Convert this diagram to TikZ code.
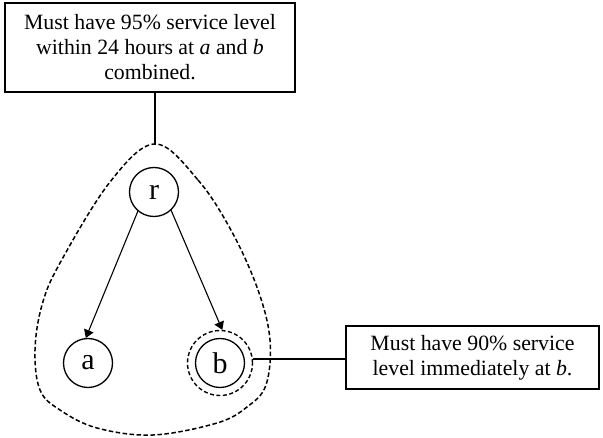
\documentclass[tikz,border=0pt]{standalone}
\usepackage{fontspec}
\setmainfont{Liberation Serif}
\usetikzlibrary{arrows.meta}
\begin{document}
\begin{tikzpicture}[x=1pt,y=-1pt,
  notebox/.style={draw, line width=1.5pt, align=center, inner sep=0pt,
    font=\fontsize{21.8}{25}\selectfont},
  vertex/.style={draw, circle, line width=1.3pt, minimum size=49pt, inner sep=0pt,
    font=\fontsize{30}{30}\selectfont},
  halo/.style={draw, circle, dash pattern=on 4pt off 2.5pt, line width=1.4pt,
    minimum size=65pt, inner sep=0pt},
  edge/.style={line width=1.1pt, -{Triangle[length=8pt,width=10pt]}},
  leader/.style={line width=1.3pt},
  region/.style={dash pattern=on 4.5pt off 2.5pt, line width=1.5pt}]
\useasboundingbox (0,0) rectangle (603,438);

% constraint notes
\node[notebox, minimum width=290pt, minimum height=89pt] (topnote) at (150,47.5)
  {Must have 95\% service level\\ within 24 hours at \textit{a} and \textit{b}\\ combined.};
\node[notebox, minimum width=253pt, minimum height=63pt] (sidenote) at (472.5,357.5)
  {Must have 90\% service\\ level immediately at \textit{b}.};

% network nodes
\node[vertex] (r) at (154,192) {r};
\node[vertex] (a) at (88,363) {a};
\node[vertex] (b) at (220,363) {b};
\node[halo] (bo) at (220,363) {};

% region covering a and b
\coordinate (looptop) at (155,144);
\draw[region] plot[smooth cycle, tension=0.6] coordinates {
  (155,144) (198,180) (232,232) (258,290) (270,340) (266,385) (247,407)
  (217,423) (153,435) (97,428) (60,410) (40,390) (35,350) (42,305)
  (60,263) (110,182)};

% edges
\draw[edge] (r.230) -- (a.95);
\draw[edge] (r.313) -- (bo.86);

% leader lines to notes
\draw[leader] (topnote.south -| looptop) -- (looptop);
\draw[leader] (bo.7) -- (bo.7 -| sidenote.west);
\end{tikzpicture}
\end{document}
